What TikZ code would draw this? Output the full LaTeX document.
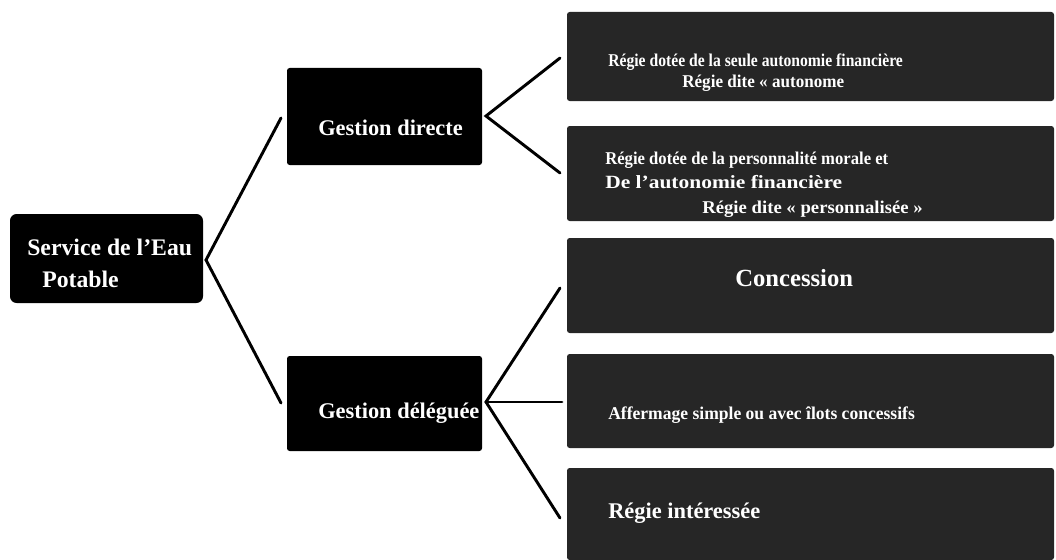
\documentclass[tikz,border=0pt]{standalone}
\usepackage{fontspec}
\setmainfont{Liberation Serif}
\usetikzlibrary{fit}
\newcommand{\fsz}[1]{\bfseries\fontsize{#1}{#1}\selectfont}
\newcommand{\sx}[2]{\scalebox{#1}[1]{#2}}
\begin{document}
\begin{tikzpicture}[x=0.75pt,y=-0.75pt,
  darkbox/.style={fill=black, draw=none, rounded corners=5pt, inner sep=0pt},
  grainbox/.style={fill=black!85, draw=none, rounded corners=2pt, inner sep=0pt},
  lbl/.style={text=white, inner sep=0pt, anchor=base west},
  conn/.style={line width=2.2pt, line cap=round, line join=miter}]
\useasboundingbox (0,0) rectangle (1056,560);

% boxes
\node[darkbox, fit={(10,214) (203,303)}] (svc) {};
\node[darkbox, rounded corners=2pt, fit={(287,68) (482,165)}] (gdir) {};
\node[darkbox, rounded corners=2pt, fit={(287,356) (482,451)}] (gdel) {};
\node[grainbox, fit={(567,12) (1054,101)}] (r1) {};
\node[grainbox, fit={(567,126) (1054,221)}] (r2) {};
\node[grainbox, fit={(567,238) (1054,333)}] (r3) {};
\node[grainbox, fit={(567,354) (1054,448)}] (r4) {};
\node[grainbox, fit={(567,468) (1054,560)}] (r5) {};

% connector points
\coordinate (v0) at (206,260);
\coordinate (a1) at (281,118);
\coordinate (a2) at (281,403);
\coordinate (v1) at (486,116);
\coordinate (b1) at (560,58);
\coordinate (b2) at (560,173);
\coordinate (v2) at (486,402);
\coordinate (c1) at (560,288);
\coordinate (c2) at (562,402);
\coordinate (c3) at (560,518);

\draw[conn] (a1) -- (v0) -- (a2);
\draw[conn] (b1) -- (v1) -- (b2);
\draw[conn] (c1) -- (v2) -- (c3);
\draw[conn] (v2) -- (c2);

% texts
\node[lbl, font=\fsz{17.8}] (t0a) at (27,255) {Service de l’Eau};
\node[lbl, font=\fsz{17.8}] (t0b) at (42,287) {Potable};
\node[lbl, font=\fsz{16.8}] (t1) at (318,135) {Gestion directe};
\node[lbl, font=\fsz{16.8}] (t2) at (318,418) {Gestion déléguée};

\node[lbl, font=\fsz{13.5}] (t3a) at (608,67) {\sx{0.87}{Régie dotée de la seule autonomie financière}};
\node[lbl, font=\fsz{13.5}] (t3b) at (682,88) {\sx{0.95}{Régie dite « autonome}};
\node[lbl, font=\fsz{13.5}] (t4a) at (605,164) {\sx{0.925}{Régie dotée de la personnalité morale et}};
\node[lbl, font=\fsz{14}] (t4b) at (605,188) {\sx{1.15}{De l’autonomie financière}};
\node[lbl, font=\fsz{13.5}] (t4c) at (702,213) {\sx{1.04}{Régie dite « personnalisée »}};
\node[lbl, font=\fsz{18.5}] (t5) at (735,286) {Concession};
\node[lbl, font=\fsz{13.5}] (t6) at (608,419) {\sx{0.975}{Affermage simple ou avec îlots concessifs}};
\node[lbl, font=\fsz{16.8}] (t7) at (608,518) {Régie intéressée};
\end{tikzpicture}
\end{document}
